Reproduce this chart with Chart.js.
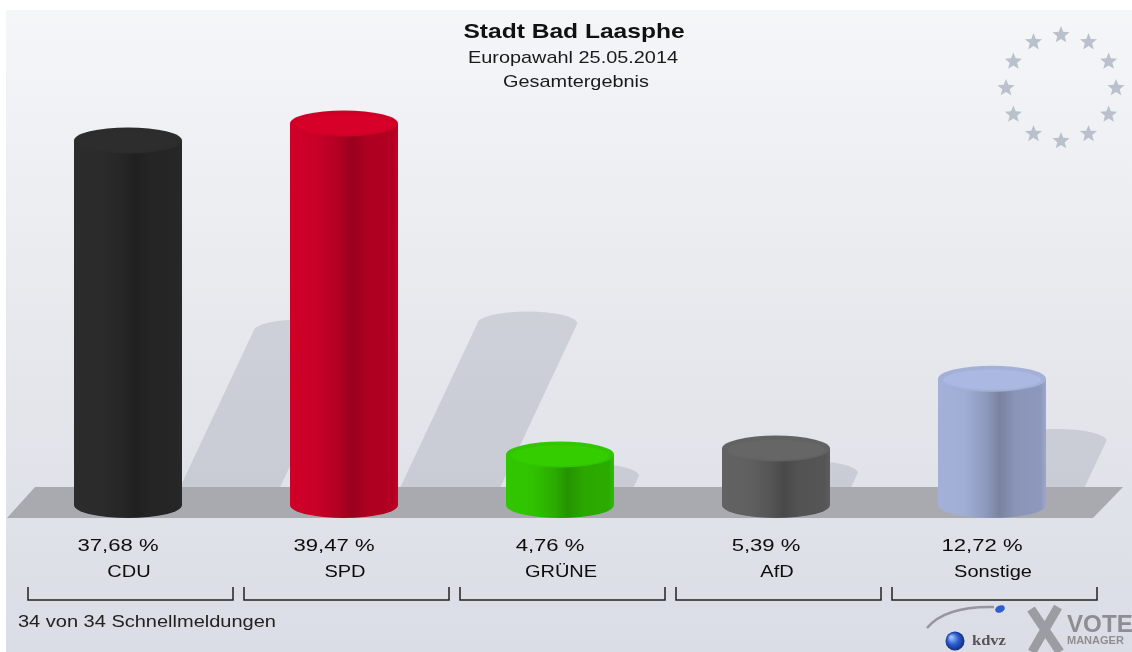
<!DOCTYPE html>
<html>
<head>
<meta charset="utf-8">
<title>Stadt Bad Laasphe - Europawahl 2014</title>
<script src="https://cdn.jsdelivr.net/npm/chart.js@4/dist/chart.umd.min.js"></script>
<style>
  html, body { margin: 0; padding: 0; background: #fff; overflow: hidden; }
  #wrap { position: relative; width: 1132px; height: 652px; }
</style>
</head>
<body>
<div id="wrap"><canvas id="election-chart"></canvas></div>
<script>
// Chart data
const parties = ["CDU", "SPD", "GRÜNE", "AfD", "Sonstige"];
const shares = [37.68, 39.47, 4.76, 5.39, 12.72];
const partyColors = ["#2d2d2d", "#d40029", "#33cc00", "#656565", "#a8b6e0"];
const titleLines = ["Stadt Bad Laasphe", "Europawahl 25.05.2014", "Gesamtergebnis"];
const footerText = "34 von 34 Schnellmeldungen";

const FONT = "'Liberation Sans', Arial, Helvetica, sans-serif";

// Helper: darken / lighten a hex colour
function shade(hex, f) {
  const n = parseInt(hex.slice(1), 16);
  const c = [(n >> 16) & 255, (n >> 8) & 255, n & 255].map(v => Math.max(0, Math.min(255, Math.round(v * f))));
  return "rgb(" + c.join(",") + ")";
}

// Helper: horizontally stretched text (the original image is wider than its fonts)
function stretchText(ctx, text, x, y, font, sx, align, color) {
  ctx.save();
  ctx.translate(x, y);
  ctx.scale(sx, 1);
  ctx.font = font;
  ctx.fillStyle = color || "#111";
  ctx.textAlign = align || "center";
  ctx.textBaseline = "alphabetic";
  ctx.fillText(text, 0, 0);
  ctx.restore();
}

function drawStar(ctx, x, y, ro, ri) {
  ctx.beginPath();
  for (let k = 0; k < 10; k++) {
    const a = -Math.PI / 2 + k * Math.PI / 5;
    const r = k % 2 === 0 ? ro : ri;
    ctx.lineTo(x + r * Math.cos(a), y + r * Math.sin(a));
  }
  ctx.closePath();
  ctx.fill();
}

// Background panel, EU stars, wall shadows and floor
const backdropPlugin = {
  id: "backdrop",
  beforeDatasetsDraw(chart) {
    const ctx = chart.ctx;
    const w = chart.width, h = chart.height;
    ctx.save();
    const g = ctx.createLinearGradient(0, 10, 0, h);
    g.addColorStop(0, "#f5f6f8");
    g.addColorStop(0.5, "#e6e8ed");
    g.addColorStop(1, "#dadde5");
    ctx.fillStyle = g;
    ctx.fillRect(6, 10, w - 6, h - 10);

    // EU stars
    ctx.fillStyle = "#bac0cc";
    for (let i = 0; i < 12; i++) {
      const a = i * Math.PI / 6;
      drawStar(ctx, 1061 + 55 * Math.sin(a), 88 - 53 * Math.cos(a), 9, 3.9);
    }

    // wall shadows of the cylinders
    const meta = chart.getDatasetMeta(0);
    ctx.fillStyle = "rgba(130, 136, 152, 0.25)";
    meta.data.forEach(el => {
      const H = el.base + 5 - el.y;
      const off = 0.25 * H + 5;
      const bx = el.x + off;
      const dy = 0.46 * H;
      const ty = 487 - dy + 12;
      const tx = bx + 0.47 * (500 - ty);
      ctx.beginPath();
      ctx.moveTo(bx - 50, 500);
      ctx.lineTo(tx - 50, ty);
      ctx.ellipse(tx, ty, 50, 12, 0, Math.PI, 0, false);
      ctx.lineTo(bx + 50, 500);
      ctx.closePath();
      ctx.fill();
    });

    // floor band
    ctx.fillStyle = "#a9aaaf";
    ctx.beginPath();
    ctx.moveTo(35, 487);
    ctx.lineTo(1123, 487);
    ctx.lineTo(1093, 518);
    ctx.lineTo(7, 518);
    ctx.closePath();
    ctx.fill();
    ctx.restore();
  }
};

// Cylinders drawn on the bar elements
const cylinderPlugin = {
  id: "cylinders",
  afterDatasetsDraw(chart) {
    const ctx = chart.ctx;
    const meta = chart.getDatasetMeta(0);
    ctx.save();
    meta.data.forEach((el, i) => {
      const base = partyColors[i];
      const r = el.width / 2;
      const left = el.x - r, right = el.x + r;
      const yTop = el.y, yBot = el.base + 5;
      const ry = 13;

      const g = ctx.createLinearGradient(left, 0, right, 0);
      g.addColorStop(0, shade(base, 0.97));
      g.addColorStop(0.25, shade(base, 0.95));
      g.addColorStop(0.45, shade(base, 0.84));
      g.addColorStop(0.57, shade(base, 0.72));
      g.addColorStop(0.72, shade(base, 0.82));
      g.addColorStop(0.95, shade(base, 0.84));
      g.addColorStop(1, shade(base, 0.92));
      ctx.fillStyle = g;
      ctx.beginPath();
      ctx.moveTo(left, yTop);
      ctx.lineTo(left, yBot);
      ctx.ellipse(el.x, yBot, r, ry, 0, Math.PI, 0, true);
      ctx.lineTo(right, yTop);
      ctx.closePath();
      ctx.fill();

      // top face
      ctx.beginPath();
      ctx.ellipse(el.x, yTop, r, ry, 0, 0, Math.PI * 2);
      ctx.fillStyle = shade(base, 0.97);
      ctx.fill();
      ctx.beginPath();
      ctx.ellipse(el.x, yTop + 1, r * 0.9, ry * 0.78, 0, 0, Math.PI * 2);
      ctx.fillStyle = shade(base, 1.01);
      ctx.fill();
    });
    ctx.restore();
  }
};

// Titles, labels, brackets, footer and logos
const textPlugin = {
  id: "texts",
  afterDraw(chart) {
    const ctx = chart.ctx;
    const meta = chart.getDatasetMeta(0);

    stretchText(ctx, titleLines[0], 574, 38, "bold 21px " + FONT, 1.17, "center", "#111");
    stretchText(ctx, titleLines[1], 573, 63, "17px " + FONT, 1.17, "center", "#1a1a1a");
    stretchText(ctx, titleLines[2], 576, 87, "17px " + FONT, 1.17, "center", "#1a1a1a");

    ctx.save();
    ctx.strokeStyle = "#222";
    ctx.lineWidth = 1.5;
    meta.data.forEach((el, i) => {
      const label = shares[i].toFixed(2).replace(".", ",") + " %";
      stretchText(ctx, label, el.x - 10, 551, "16px " + FONT, 1.38, "center", "#0d0d0d");
      stretchText(ctx, parties[i], el.x + 1, 577, "16px " + FONT, 1.25, "center", "#0d0d0d");
      const bl = el.x - 100, br = el.x + 105;
      ctx.beginPath();
      ctx.moveTo(bl, 587);
      ctx.lineTo(bl, 600);
      ctx.lineTo(br, 600);
      ctx.lineTo(br, 587);
      ctx.stroke();
    });
    ctx.restore();

    stretchText(ctx, footerText, 18, 627, "16px " + FONT, 1.25, "left", "#222");

    // kdvz / VOTE MANAGER logos
    ctx.save();
    ctx.strokeStyle = "rgba(120,120,125,0.7)";
    ctx.lineWidth = 2.5;
    ctx.beginPath();
    ctx.moveTo(927, 628);
    ctx.quadraticCurveTo(945, 606, 994, 607);
    ctx.stroke();
    const sg = ctx.createRadialGradient(951, 637, 1, 955, 641, 10);
    sg.addColorStop(0, "#9fc2ff");
    sg.addColorStop(0.5, "#2e5fd0");
    sg.addColorStop(1, "#0c2a7a");
    ctx.fillStyle = sg;
    ctx.beginPath();
    ctx.arc(955, 641, 9.5, 0, Math.PI * 2);
    ctx.fill();
    ctx.fillStyle = "#2f5fcf";
    ctx.beginPath();
    ctx.ellipse(1000, 609, 5, 3.5, -0.4, 0, Math.PI * 2);
    ctx.fill();
    ctx.restore();
    stretchText(ctx, "kdvz", 972, 645, "bold 15px 'Liberation Serif', serif", 1.1, "left", "#555");

    ctx.save();
    ctx.strokeStyle = "rgba(135,135,140,0.75)";
    ctx.lineWidth = 9;
    ctx.beginPath();
    ctx.moveTo(1031, 609);
    ctx.lineTo(1060, 652);
    ctx.moveTo(1058, 607);
    ctx.lineTo(1032, 652);
    ctx.stroke();
    ctx.restore();
    stretchText(ctx, "VOTE", 1067, 632, "bold 23px " + FONT, 1.05, "left", "#8e8e92");
    stretchText(ctx, "MANAGER", 1067, 644, "bold 11px " + FONT, 1.0, "left", "#8e8e92");
  }
};

const ctx = document.getElementById("election-chart").getContext("2d");
new Chart(ctx, {
  type: "bar",
  data: {
    labels: parties,
    datasets: [{
      label: "Stimmenanteil (%)",
      data: shares,
      backgroundColor: "rgba(0,0,0,0)",
      borderWidth: 0,
      barPercentage: 0.5,
      categoryPercentage: 1.0
    }]
  },
  options: {
    responsive: true,
    maintainAspectRatio: false,
    animation: false,
    layout: { padding: { left: 20, right: 32, top: 23, bottom: 152 } },
    plugins: {
      legend: { display: false },
      tooltip: { enabled: false },
      title: { display: false }
    },
    scales: {
      x: { display: false },
      y: { display: false, min: 0, max: 50 }
    }
  },
  plugins: [backdropPlugin, cylinderPlugin, textPlugin]
});
</script>
</body>
</html>
